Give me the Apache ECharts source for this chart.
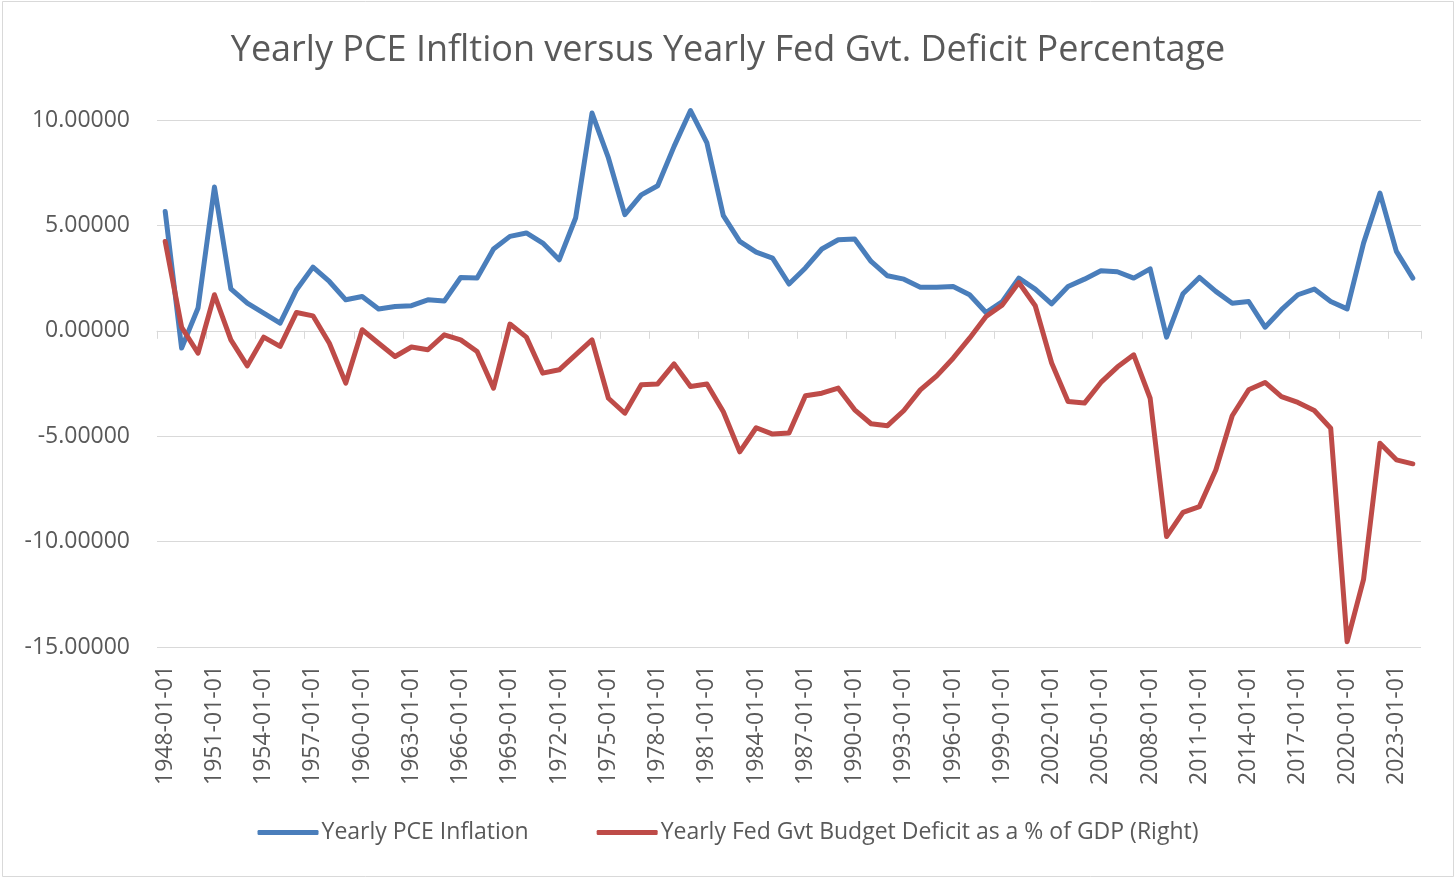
<!DOCTYPE html>
<html>
<head>
<meta charset="utf-8">
<script src="https://cdn.jsdelivr.net/npm/echarts@6/dist/echarts.min.js"></script>
<style>
html,body{margin:0;padding:0;background:#fff;}
#chart{width:1456px;height:881px;}
</style>
</head>
<body>
<div id="chart"></div>
<script>
const years = [];
for (let y = 1948; y <= 2024; y++) years.push(y + '-01-01');

const pceInflation = [
  5.66, -0.82, 1.08, 6.82, 1.99, 1.31, 0.84, 0.36, 1.95, 3.02,
  2.34, 1.47, 1.63, 1.03, 1.15, 1.19, 1.47, 1.41, 2.53, 2.50,
  3.88, 4.48, 4.64, 4.16, 3.37, 5.35, 10.33, 8.20, 5.51, 6.45,
  6.88, 8.75, 10.45, 8.91, 5.46, 4.24, 3.73, 3.45, 2.22, 2.98,
  3.88, 4.32, 4.35, 3.29, 2.61, 2.45, 2.07, 2.07, 2.10, 1.71,
  0.87, 1.39, 2.50, 1.98, 1.28, 2.10, 2.45, 2.85, 2.80, 2.50,
  2.94, -0.30, 1.76, 2.53, 1.87, 1.31, 1.39, 0.17, 1.00, 1.71,
  1.98, 1.39, 1.04, 4.16, 6.53, 3.77, 2.50
];

const deficitPct = [
  4.24, 0.17, -1.06, 1.71, -0.43, -1.66, -0.30, -0.74, 0.87, 0.71,
  -0.59, -2.48, 0.05, -0.59, -1.22, -0.77, -0.90, -0.19, -0.43, -0.98,
  -2.72, 0.32, -0.30, -2.01, -1.85, -1.14, -0.43, -3.20, -3.91, -2.56,
  -2.52, -1.57, -2.64, -2.52, -3.84, -5.74, -4.60, -4.90, -4.85, -3.08,
  -2.96, -2.72, -3.75, -4.41, -4.50, -3.78, -2.80, -2.14, -1.30, -0.35,
  0.68, 1.23, 2.29, 1.19, -1.53, -3.35, -3.43, -2.45, -1.72, -1.14,
  -3.20, -9.76, -8.61, -8.34, -6.60, -4.03, -2.80, -2.45, -3.12, -3.40,
  -3.78, -4.62, -14.75, -11.79, -5.33, -6.12, -6.31
];

const titleText = 'Yearly PCE Infltion versus Yearly Fed Gvt. Deficit Percentage';
const seriesNames = ['Yearly PCE Inflation', 'Yearly Fed Gvt Budget Deficit as a % of GDP (Right)'];

const FONT = '"Open Sans", "Noto Sans", sans-serif';
const TXT = '#595959';
const GRID = '#d9d9d9';

const chart = echarts.init(document.getElementById('chart'), null, {renderer: 'canvas'});
chart.setOption({
  animation: false,
  backgroundColor: '#fff',
  textStyle: {fontFamily: FONT},
  title: {
    text: titleText,
    left: 'center',
    top: 28,
    textStyle: {fontFamily: FONT, fontSize: 36, fontWeight: 'normal', color: TXT}
  },
  graphic: [{
    type: 'rect', silent: true, z: -10,
    shape: {x: 2.5, y: 1.5, width: 1451, height: 875},
    style: {fill: 'none', stroke: GRID, lineWidth: 1}
  }],
  legend: {
    data: seriesNames,
    left: 'center',
    top: 816,
    itemWidth: 61,
    itemHeight: 5,
    itemGap: 68,
    icon: 'roundRect',
    textStyle: {fontFamily: FONT, fontSize: 23, color: TXT, padding: [0,0,0,-2]}
  },
  grid: {left: 157, right: 35, top: 120, bottom: 234, containLabel: false},
  xAxis: [{
    type: 'category',
    data: years,
    boundaryGap: true,
    position: 'bottom',
    axisLine: {show: false, onZero: false},
    axisTick: {show: false},
    axisLabel: {
      interval: 2, rotate: 90, margin: 18,
      fontFamily: FONT, fontSize: 23, color: TXT
    },
    splitLine: {show: false}
  }, {
    type: 'category',
    data: years,
    boundaryGap: true,
    position: 'bottom',
    axisLine: {show: true, onZero: true, lineStyle: {color: GRID, width: 1}},
    axisTick: {show: true, interval: 2, length: 8, lineStyle: {color: GRID, width: 1}},
    axisLabel: {show: false},
    splitLine: {show: false}
  }],
  yAxis: {
    type: 'value',
    min: -15, max: 10, interval: 5,
    axisLine: {show: false},
    axisTick: {show: false},
    axisLabel: {
      margin: 27,
      fontFamily: FONT, fontSize: 23, color: TXT,
      formatter: v => v.toFixed(5)
    },
    splitLine: {lineStyle: {color: GRID, width: 1}}
  },
  series: [{
    name: seriesNames[0],
    type: 'line',
    xAxisIndex: 0,
    data: pceInflation,
    showSymbol: false, symbol: 'none',
    clip: false,
    color: '#4A7EBB',
    lineStyle: {width: 5, color: '#4A7EBB', cap: 'round', join: 'round'}
  }, {
    name: seriesNames[1],
    type: 'line',
    xAxisIndex: 0,
    data: deficitPct,
    showSymbol: false, symbol: 'none',
    clip: false,
    color: '#BE4B48',
    lineStyle: {width: 5, color: '#BE4B48', cap: 'round', join: 'round'}
  }]
});
</script>
</body>
</html>
